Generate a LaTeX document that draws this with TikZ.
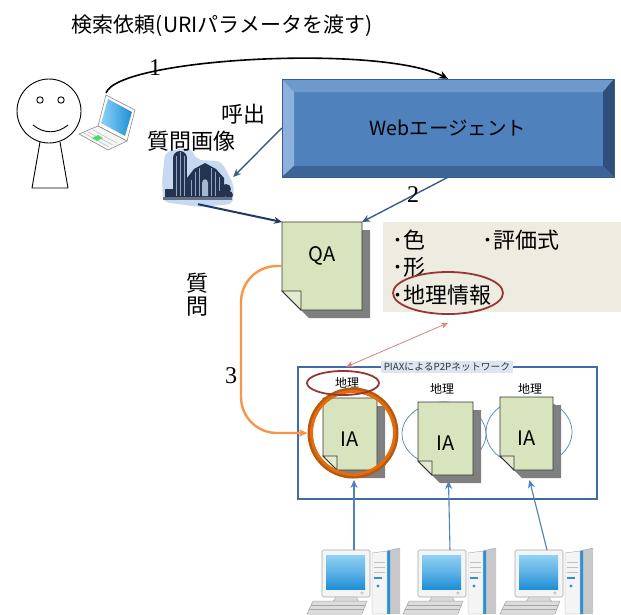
\documentclass[tikz,border=0pt]{standalone}
\usepackage{fontspec}
\newfontfamily\jpfont{Noto Sans CJK JP}
\newfontfamily\numfont{Liberation Serif}
\usetikzlibrary{arrows.meta,calc,shapes.geometric}

\definecolor{notegreen}{HTML}{D7E4BD}
\definecolor{noteflapc}{HTML}{E2EBCE}
\definecolor{noteshade}{HTML}{7F7F7F}
\definecolor{agentface}{HTML}{4F81BD}
\definecolor{agenttop}{HTML}{6E99CD}
\definecolor{agentleft}{HTML}{8DB0DC}
\definecolor{agentright}{HTML}{2E4F7C}
\definecolor{agentbottom}{HTML}{3E6396}
\definecolor{agentedge}{HTML}{385D8A}
\definecolor{paneltan}{HTML}{EEECE1}
\definecolor{ovalred}{HTML}{953735}
\definecolor{linkred}{HTML}{D9807E}
\definecolor{queryorange}{HTML}{F79646}
\definecolor{ringorange}{HTML}{E46C0A}
\definecolor{ringdark}{HTML}{B65A10}
\definecolor{netblue}{HTML}{4F81BD}
\definecolor{netframe}{HTML}{3F6CA6}
\definecolor{steelblue}{HTML}{385D8A}
\definecolor{navyblue}{HTML}{1F3864}
\definecolor{captionbg}{HTML}{DCE6F2}
\definecolor{barnhalo}{HTML}{C6D9F0}
\definecolor{barndark}{HTML}{243350}
\definecolor{barnline}{HTML}{8FA6C6}
\definecolor{screenblue}{HTML}{1C8FD8}
\definecolor{screenlight}{HTML}{8ED2F5}
\definecolor{caseside}{HTML}{C8C8C8}
\definecolor{caseface}{HTML}{F4F4F4}
\definecolor{caseedge}{HTML}{A6A6A6}
\definecolor{stripeblue}{HTML}{2A8FD6}

\tikzset{
  jp/.style={font=\jpfont\fontsize{#1}{#1}\selectfont},
  num/.style={font=\numfont\fontsize{24}{24}\selectfont},
  notebody/.style={draw=black!80, line width=0.9pt, fill=notegreen},
  noteflap/.style={draw=black!80, line width=0.9pt, fill=noteflapc},
  noteshadow/.style={fill=noteshade},
  notearea/.style={rectangle, draw=none, inner sep=0pt, outer sep=0pt},
  notelabel/.style={jp=20, inner sep=0pt},
  oval/.style={ellipse, draw=ovalred, line width=1.8pt, inner sep=0pt},
  reach/.style={ellipse, draw=netblue, line width=0.7pt, inner sep=0pt},
  feed/.style={draw=netblue, line width=1.1pt, -{Stealth[length=8pt,width=7pt]}},
  computer/.pic={
    % tower
    \fill[caseside] (68,0) -- (78,-2) -- (78,64) -- (68,64) -- cycle;
    \fill[stripeblue] (65,1) -- (68,0) -- (68,64) -- (65,64) -- cycle;
    \filldraw[fill=caseface, draw=caseedge, line width=0.4pt] (50,3) -- (65,1) -- (65,64) -- (50,64) -- cycle;
    \draw[caseedge, line width=0.4pt] (65,1) -- (78,-2);
    \draw[black!25, line width=0.5pt] (52,12) -- (63,12) (52,17) -- (63,17) (52,22) -- (63,22);
    \fill[stripeblue] (52,27) rectangle (60,29);
    \fill[stripeblue] (56,36) circle[radius=1.6];
    % monitor
    \filldraw[fill=caseface, draw=caseedge, line width=0.6pt, rounded corners=1.5pt] (0,0) rectangle (48,47);
    \shade[top color=screenlight, bottom color=screenblue, middle color=screenblue!70] (4,5) rectangle (43,39);
    \draw[caseedge, line width=0.4pt] (40,43) circle[radius=1.3];
    \filldraw[fill=caseside!70, draw=caseedge, line width=0.4pt] (14,47) -- (34,47) -- (38,53) -- (10,53) -- cycle;
    % keyboard
    \filldraw[fill=caseface!90!black, draw=caseedge, line width=0.5pt] (-9,51) -- (45,51) -- (40,64) -- (-15,64) -- cycle;
    \draw[caseedge, line width=0.3pt] (-11,55) -- (43,55) (-13,59) -- (42,59);
    \coordinate (-top) at (32,0);
  }
}

% sticky note with a folded lower-left corner and a drop shadow
% #1 name, #2 left, #3 top, #4 width, #5 height, #6 fold, #7 label y below top, #8 label
\newcommand\docnote[8]{%
  \fill[noteshadow] ({#2+8},{#3+8}) -- ++(#4,0) -- ++(0,#5) -- ++({#6-#4},0) -- ++({-#6},{-#6}) -- cycle;
  \draw[notebody] (#2,#3) -- ++(#4,0) -- ++(0,#5) -- ++({#6-#4},0) -- ++({-#6},{-#6}) -- cycle;
  \draw[noteflap] (#2,{#3+#5-#6}) -- ++(#6,0) -- ++(0,#6) -- cycle;
  \node[notearea, minimum width=#4, minimum height=#5] (#1) at ({#2+#4/2},{#3+#5/2}) {};
  \node[notelabel] (#1-text) at ({#2+#4/2},{#3+#7}) {#8};
}

\begin{document}
\begin{tikzpicture}[x=1pt,y=-1pt]
\useasboundingbox (0,0) rectangle (621,614);

% ---------- title ----------
\node[jp=21] (title) at (222,26) {検索依頼(URIパラメータを渡す)};

% ---------- attribute panel ----------
\fill[paneltan] (383,222) rectangle (621,312);
\node[jp=22, anchor=west, inner sep=0pt] (attrcolor) at (392,240) {･色};
\node[jp=22, anchor=west, inner sep=0pt] (attreval) at (482,240) {･評価式};
\node[jp=22, anchor=west, inner sep=0pt] (attrshape) at (392,267) {･形};
\node[jp=22, anchor=west, inner sep=0pt] (attrgeo) at (392,295) {･地理情報};
\node[oval, minimum width=110, minimum height=42] (geooval) at (448,293) {};

% ---------- web agent (bevelled button) ----------
\fill[agentface] (282,79) rectangle (614,177);
\fill[agenttop] (282,79) -- (614,79) -- (603,92) -- (294,92) -- cycle;
\fill[agentleft] (282,79) -- (294,92) -- (294,166) -- (282,177) -- cycle;
\fill[agentright] (614,79) -- (614,177) -- (603,166) -- (603,92) -- cycle;
\fill[agentbottom] (282,177) -- (294,166) -- (603,166) -- (614,177) -- cycle;
\draw[agentedge, line width=0.6pt] (282,79) rectangle (614,177);
\node[jp=19.5, minimum width=332, minimum height=98, inner sep=0pt] (web) at (448,128) {Webエージェント};

% ---------- user with laptop ----------
\begin{scope}[line width=0.9pt]
  \draw (49,111) circle[radius=32];
  \draw (40,100) circle[radius=3.2];
  \draw (61,100) circle[radius=3.2];
  \draw (33,125) .. controls (44,134) and (57,134) .. (68,125);
  \draw (40,142) -- (32,188) -- (68,188) -- (60,142);
\end{scope}
\node[circle, minimum size=64, inner sep=0pt] (user) at (49,111) {};
% laptop
\filldraw[fill=white, draw=black!45, line width=0.6pt] (98,126) -- (106,95) -- (135,110) -- (127,141) -- cycle;
\shade[left color=screenlight, right color=screenblue] (101,123) -- (108,99) -- (132,112) -- (125,136) -- cycle;
\filldraw[fill=black!4, draw=black!45, line width=0.6pt] (98,126) -- (127,141) -- (108,150) -- (79,134) -- cycle;
\draw[black!30, line width=0.4pt] (93,130) -- (117,143) (88,132) -- (113,145) (84,133) -- (109,147);
\fill[green!60!teal!70] (92,138) -- (98,135) -- (103,138) -- (97,141) -- cycle;
\coordinate (laptop) at (106,93);

% ---------- farm picture ----------
\fill[barnhalo, rounded corners=6pt] (165,152) -- (190,147) -- (197,160) -- (221,161) -- (234,185) -- (233,204) -- (200,207) -- (163,202) -- (162,182) -- cycle;
\fill[barndark] (173,158) rectangle (187,197);
\fill[barndark] (180,158) circle[radius=7];
\draw[barnline, line width=0.5pt] (176,156) -- (176,196) (180,152) -- (180,196) (184,156) -- (184,196);
\fill[barndark] (187,197) -- (187,178) -- (194,169) -- (205,163) -- (216,169) -- (224,178) -- (224,197) -- cycle;
\draw[barnline, line width=0.5pt] (191,180) -- (191,196) (195,172) -- (195,196) (199,168) -- (199,196) (211,168) -- (211,196) (215,172) -- (215,196) (219,177) -- (219,196);
\fill[barnline!80] (202,196) -- (202,183) .. controls (202,178) and (208,178) .. (208,183) -- (208,196) -- cycle;
\fill[barndark] (226,189) circle[radius=5] (222,194) circle[radius=4] (229,195) circle[radius=4];
\fill[barndark] (165,189) rectangle (173,197);
\fill[barndark!70] (163,197) rectangle (232,200);
\node[rectangle, minimum width=70, minimum height=54, inner sep=0pt] (barn) at (198,177) {};

\node[jp=22] (callout) at (243,114) {呼出};
\node[jp=22] (imagecap) at (191,141) {質問画像};
\node[jp=22, align=center, inner sep=0pt] (asklabel) at (197,295) {質\\[1pt]問};

% ---------- QA note ----------
\docnote{qa}{282}{222}{80}{88}{19}{34}{QA}

% ---------- request / reply arrows ----------
\draw[line width=1.6pt, -{Stealth[length=9pt,width=8pt]}] (laptop) .. controls (118,58) and (380,44) .. (web.north);
\node[num] (step1) at (155,68) {1};
\draw[steelblue, line width=1.4pt, -{Stealth[length=8pt,width=7pt]}] (web.west) -- (barn.east);
\draw[navyblue, line width=2pt, -{Stealth[length=8pt,width=7pt]}] (barn.south) -- (qa.north west);
\draw[steelblue, line width=1.4pt, -{Stealth[length=8pt,width=7pt]}] (web.south) -- (qa.north east);
\node[num] (step2) at (413,195) {2};

% ---------- PIAX network ----------
\draw[netframe, line width=2.6pt] (298,367) rectangle (597,499);
\node[rectangle, minimum width=300, minimum height=132, inner sep=0pt] (piax) at (447.5,433) {};
\node[fill=captionbg, jp=9.8, text=black!80, inner xsep=3pt, inner ysep=2pt] (piaxcap) at (447,367) {PIAXによるP2Pネットワーク};

\node[reach, minimum width=84, minimum height=64] (reach2) at (444,434) {};
\node[reach, minimum width=86, minimum height=68] (reach3) at (529,432) {};

\node[jp=12] (geo1) at (347,383) {地理};
\node[jp=12] (geo2) at (442,389) {地理};
\node[jp=12] (geo3) at (530,389) {地理};

\docnote{ia1}{323}{398}{54}{72}{14}{41}{IA}
\docnote{ia2}{418}{402}{55}{73}{14}{41}{IA}
\docnote{ia3}{500}{397}{53}{73}{14}{41}{IA}

\node[circle, draw=ringdark, line width=5pt, minimum size=86, inner sep=0pt] (ring1) at (353,433) {};
\draw[ringorange, line width=3pt] (ring1.center) circle[radius=41.5];
\node[oval, minimum width=72, minimum height=24] (geooval1) at (343,383) {};

% ---------- query path ----------
\draw[queryorange, line width=2.4pt, rounded corners=36pt, -{Stealth[length=9pt,width=8pt]}] (qa.west) -- (241,266) -- (241,433) -- (ring1.west);
\node[num] (step3) at (231,376) {3};
\draw[linkred, line width=0.8pt, {Stealth[length=7pt,width=6pt]}-{Stealth[length=7pt,width=6pt]}] ($(geooval.south)+(0,8)$) -- ($(piax.north west)+(49,0)$);

% ---------- peers ----------
\pic (pc1) at (322,550) {computer};
\pic (pc2) at (418,550) {computer};
\pic (pc3) at (515,550) {computer};
\draw[feed] (pc1-top) -- ($(ia1.south)+(4,10)$);
\draw[feed] (pc2-top) -- ($(ia2.south)+(3,6)$);
\draw[feed] (pc3-top) -- ($(ia3.south)+(3,10)$);
\end{tikzpicture}
\end{document}
